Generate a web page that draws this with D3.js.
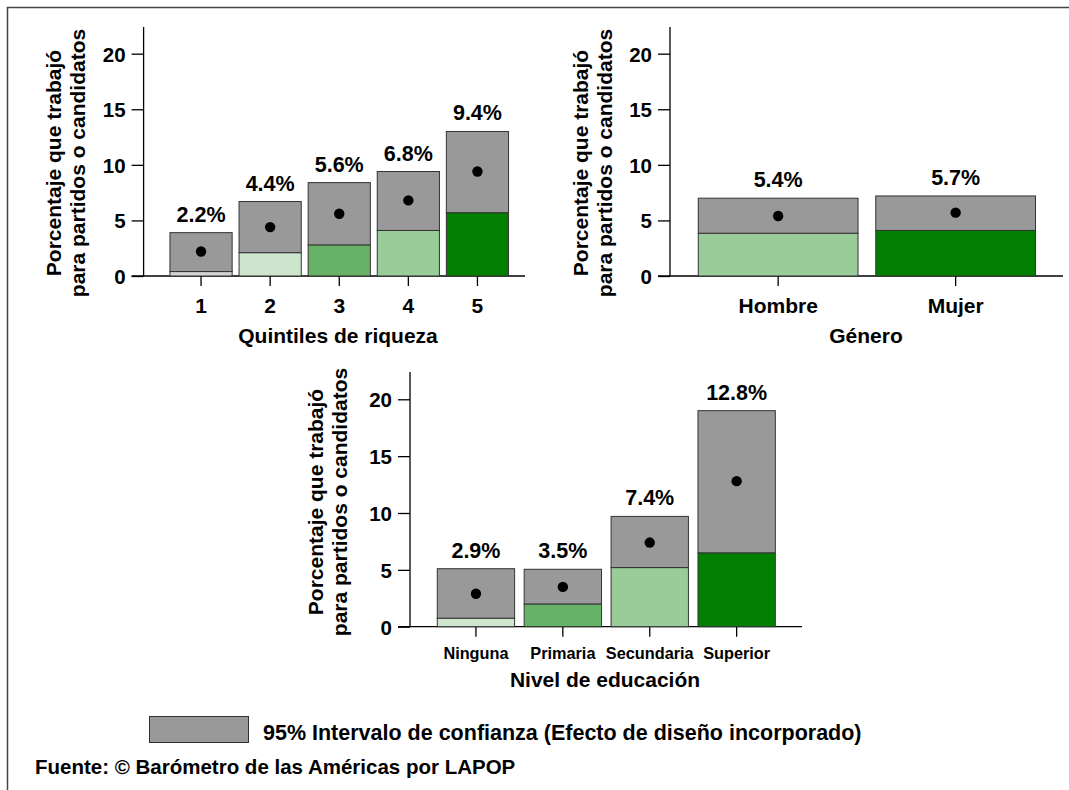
<!DOCTYPE html>
<html><head><meta charset="utf-8">
<script src="https://cdn.jsdelivr.net/npm/d3@7"></script>
<style>
body{margin:0;background:#fff;}
svg text{font-family:"Liberation Sans",Arial,sans-serif;font-weight:bold;fill:#000;}
</style></head>
<body>
<svg id="c" width="1069" height="790"></svg>
<script>
// ---- data ----
const quintiles = ["1","2","3","4","5"];
const quintMean = [2.2, 4.4, 5.6, 6.8, 9.4];
const quintLow  = [0.4, 2.1, 2.8, 4.1, 5.7];
const quintHigh = [3.9, 6.7, 8.4, 9.4, 13.0];

const generos = ["Hombre","Mujer"];
const generoMean = [5.4, 5.7];
const generoLow  = [3.85, 4.1];
const generoHigh = [7.0, 7.2];

const educacion = ["Ninguna","Primaria","Secundaria","Superior"];
const eduMean = [2.9, 3.5, 7.4, 12.8];
const eduLow  = [0.75, 2.0, 5.2, 6.5];
const eduHigh = [5.1, 5.05, 9.7, 19.0];

const yTicks = [0, 5, 10, 15, 20];
const yLabel = ["Porcentaje que trabajó", "para partidos o candidatos"];
const legendText = "95% Intervalo de confianza (Efecto de diseño incorporado)";
const sourceText = "Fuente: © Barómetro de las Américas por LAPOP";

const quintColors = ["#d3d3d3","#cce5cc","#66b266","#99cc99","#007f00"];
const generoColors = ["#99cc99","#007f00"];
const eduColors = ["#cce5cc","#66b266","#99cc99","#007f00"];

const svg = d3.select("#c");
svg.append("rect").attr("x",7.5).attr("y",7.5).attr("width",1100).attr("height",800)
  .attr("fill","none").attr("stroke","#444").attr("stroke-width",1.5);

function panel(o){
  const g = svg.append("g");
  const y = d3.scaleLinear().domain([0,22.4]).range([o.y0, o.yTop]);
  const x = d3.scaleBand().domain(o.cats).range(o.xr).paddingInner(o.pad).paddingOuter(o.pad/2);
  // y axis
  const ya = g.append("g").attr("transform",`translate(${o.ax},0)`)
    .call(d3.axisLeft(y).tickValues(yTicks).tickSize(12).tickPadding(6));
  ya.select(".domain").remove();
  ya.selectAll(".tick line").attr("stroke","#000").attr("stroke-width",1.3);
  ya.selectAll(".tick text").style("font-size","20.5px").attr("dy","0.36em");
  g.append("line").attr("x1",o.ax).attr("x2",o.ax).attr("y1",y(22.4)).attr("y2",y(0))
    .attr("stroke","#000").attr("stroke-width",1.3);
  // x axis
  const xa = g.append("g").attr("transform",`translate(0,${o.y0})`)
    .call(d3.axisBottom(x).tickSize(10));
  xa.select(".domain").remove();
  xa.selectAll(".tick line").attr("stroke","#000").attr("stroke-width",1.3);
  xa.selectAll(".tick text").style("font-size",o.xfs+"px").attr("y",o.xtb).attr("dy",0);
  g.append("line").attr("x1",o.ax-12).attr("x2",o.xEnd).attr("y1",y(0)).attr("y2",y(0))
    .attr("stroke","#000").attr("stroke-width",1.3);
  // bars
  const data = o.cats.map((c,i)=>({c, m:o.mean[i], lo:o.low[i], hi:o.high[i], col:o.colors[i]}));
  const b = g.selectAll("g.bar").data(data).enter().append("g");
  b.append("rect").attr("x",d=>x(d.c)).attr("width",x.bandwidth())
    .attr("y",d=>y(d.lo)).attr("height",d=>y(0)-y(d.lo))
    .attr("fill",d=>d.col).attr("stroke","#333").attr("stroke-width",1);
  b.append("rect").attr("x",d=>x(d.c)).attr("width",x.bandwidth())
    .attr("y",d=>y(d.hi)).attr("height",d=>y(d.lo)-y(d.hi))
    .attr("fill","#999999").attr("stroke","#333").attr("stroke-width",1);
  b.append("circle").attr("cx",d=>x(d.c)+x.bandwidth()/2).attr("cy",d=>y(d.m)).attr("r",5.2).attr("fill","#000");
  b.append("text").attr("x",d=>x(d.c)+x.bandwidth()/2).attr("y",d=>y(d.hi)-11)
    .attr("text-anchor","middle").style("font-size","21.5px").text(d=>d.m.toFixed(1)+"%");
  // titles
  g.append("text").attr("x",o.titleX).attr("y",o.titleY).attr("text-anchor","middle")
    .style("font-size","21px").text(o.title);
  yLabel.forEach((t,i)=>{
    g.append("text").attr("transform",`translate(${o.ylx[i]},${o.ylc}) rotate(-90)`)
      .attr("text-anchor","middle").style("font-size","21px").text(t);
  });
}

panel({cats:quintiles, mean:quintMean, low:quintLow, high:quintHigh, colors:quintColors,
  y0:276, yTop:27, xr:[166.5,512], pad:0.1, ax:143.6, xEnd:525, xtb:37, xfs:21,
  title:"Quintiles de riqueza", titleX:338, titleY:343, ylx:[61,85], ylc:163});
panel({cats:generos, mean:generoMean, low:generoLow, high:generoHigh, colors:generoColors,
  y0:276, yTop:27, xr:[689.4,1044.4], pad:0.1, ax:670, xEnd:1063, xtb:37, xfs:21,
  title:"Género", titleX:866, titleY:343, ylx:[588,612], ylc:163});
panel({cats:educacion, mean:eduMean, low:eduLow, high:eduHigh, colors:eduColors,
  y0:626.7, yTop:372, xr:[432.5,780.1], pad:0.11, ax:410, xEnd:802, xtb:32, xfs:16.3,
  title:"Nivel de educación", titleX:605, titleY:687, ylx:[323,347], ylc:502});

// legend
svg.append("rect").attr("x",149.5).attr("y",716.5).attr("width",99).attr("height",26)
  .attr("fill","#999999").attr("stroke","#333").attr("stroke-width",1);
svg.append("text").attr("x",263).attr("y",739.5).style("font-size","21.5px").text(legendText);
svg.append("text").attr("x",35).attr("y",774).style("font-size","20.5px").text(sourceText);
</script>
</body></html>
